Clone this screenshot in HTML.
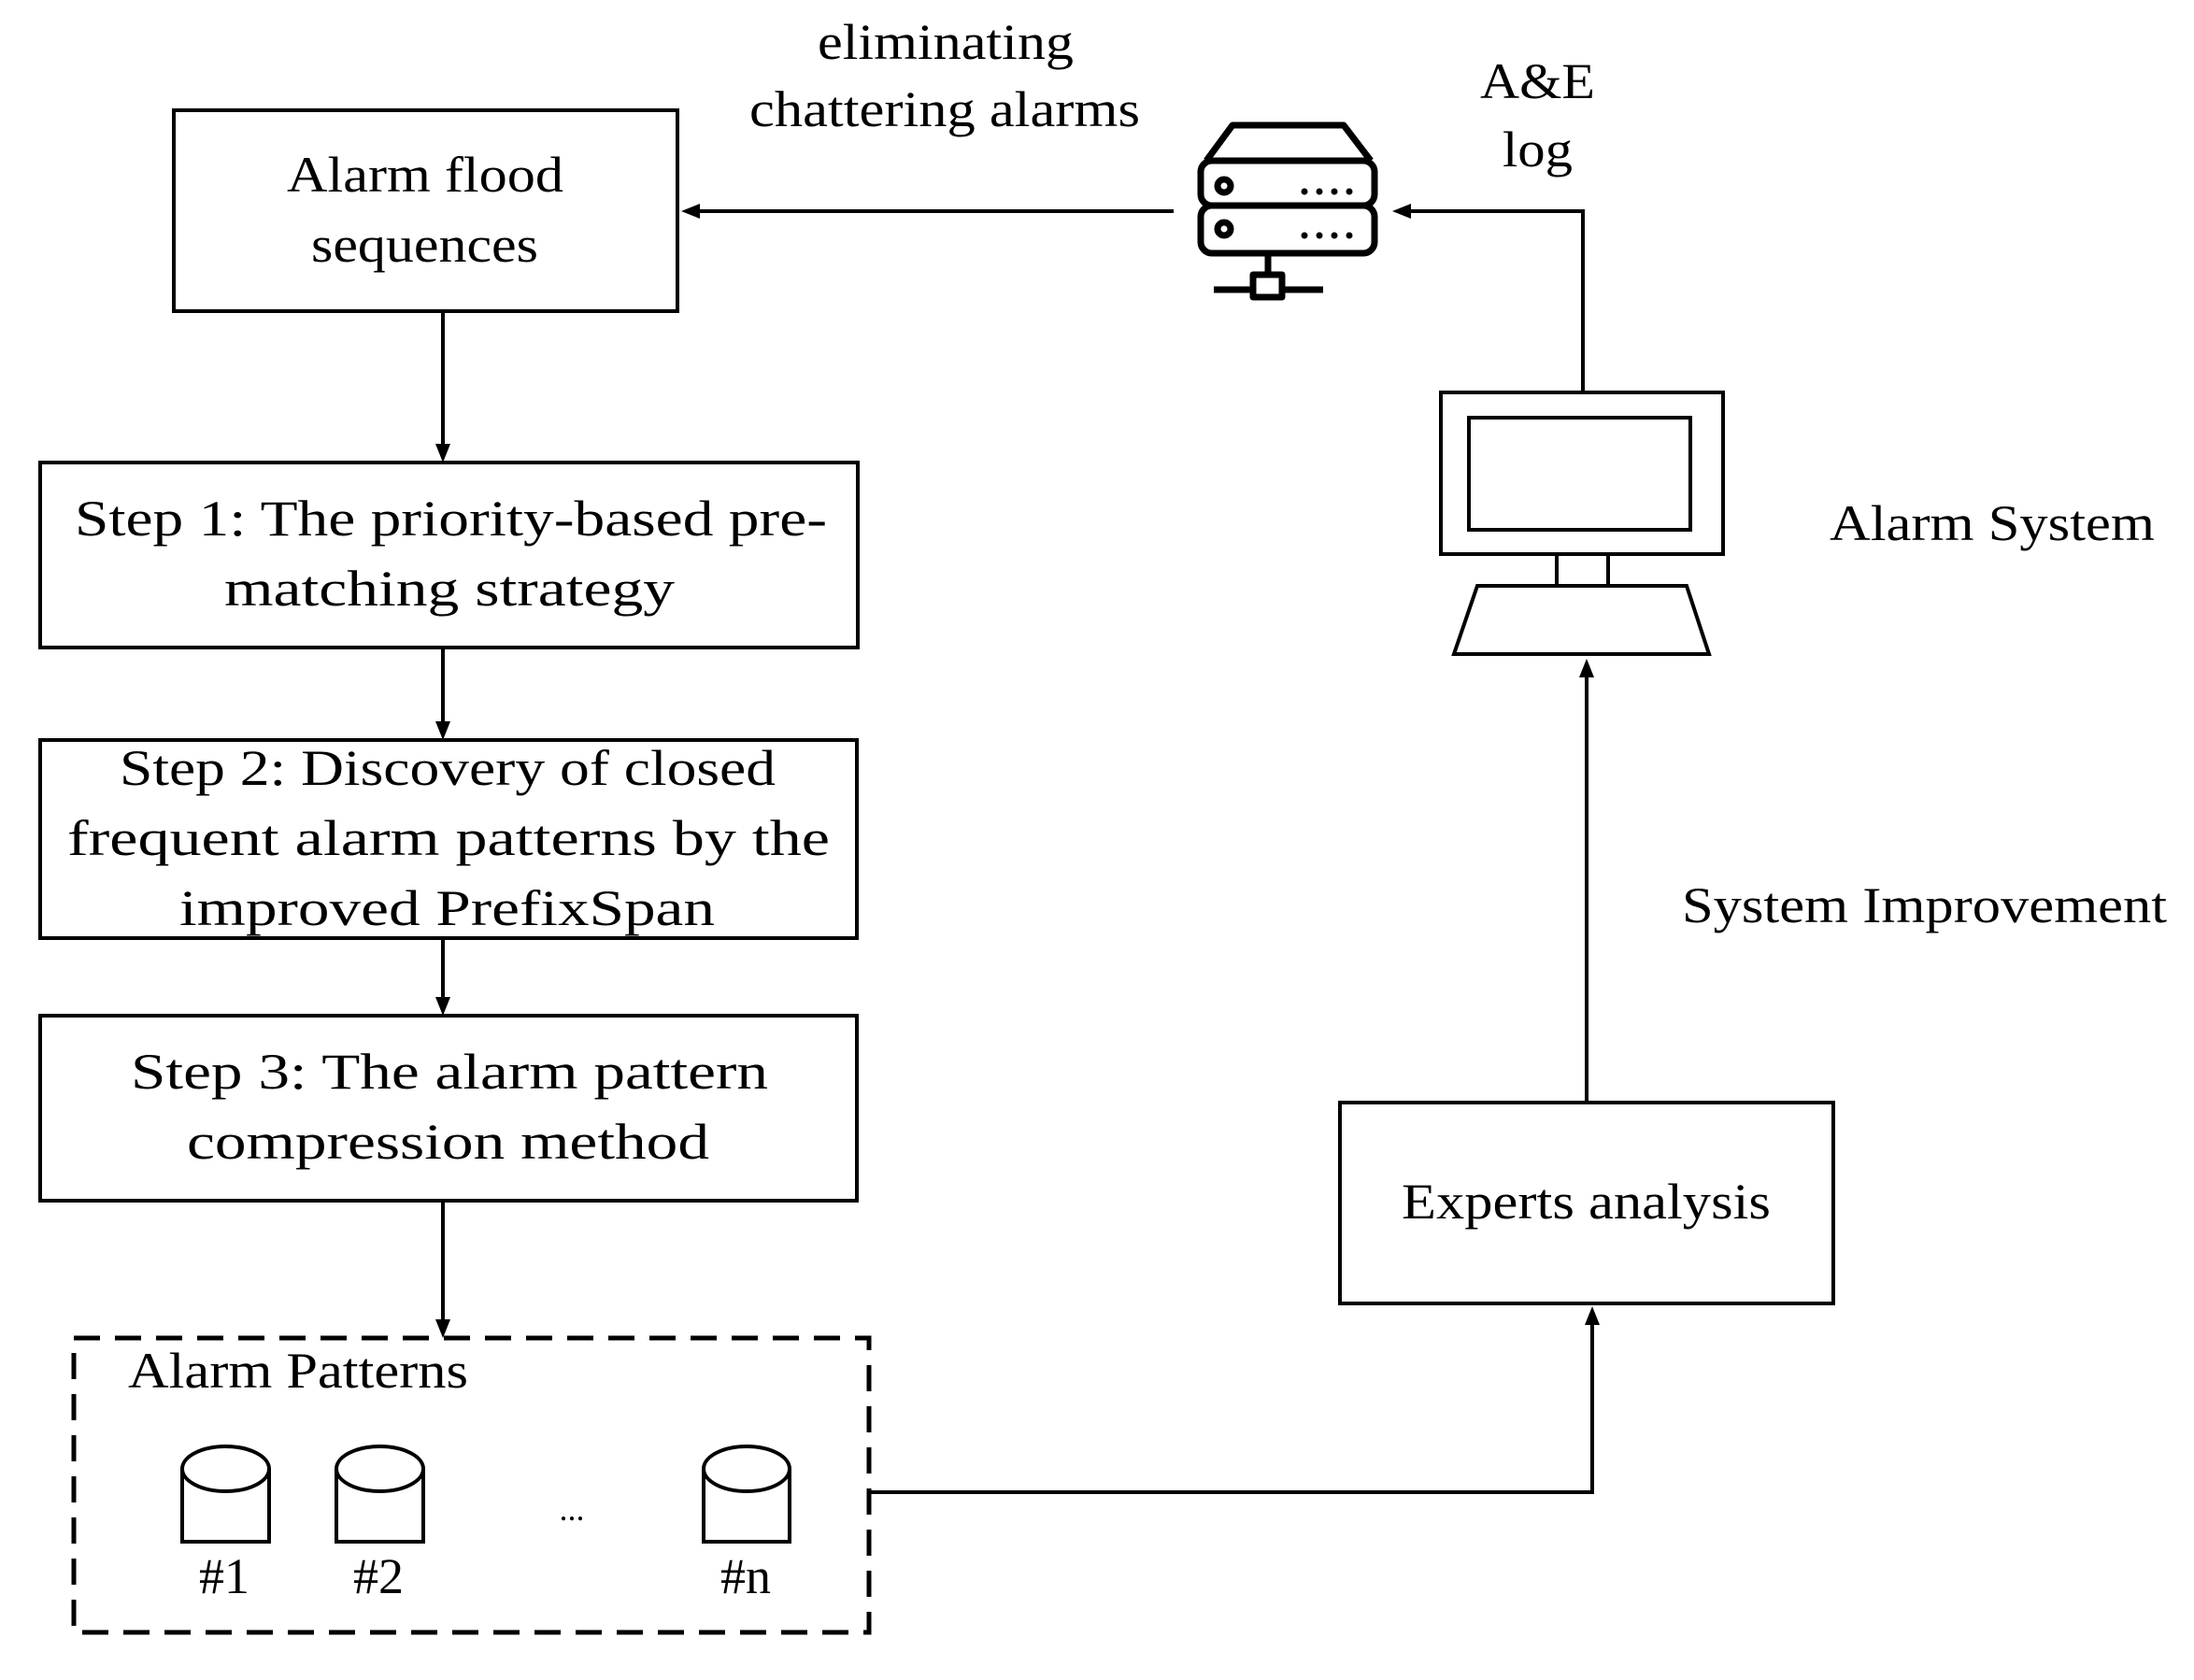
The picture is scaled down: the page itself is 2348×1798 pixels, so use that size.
<!DOCTYPE html>
<html><head><meta charset="utf-8"><style>
html,body{margin:0;padding:0;background:#fff;}
svg{display:block;}
text{font-family:"Liberation Serif",serif;font-size:54px;fill:#000;}
</style></head><body>
<svg width="2348" height="1798" viewBox="0 0 2348 1798" xmlns="http://www.w3.org/2000/svg">
<defs>
<marker id="ah" markerWidth="10" markerHeight="8" refX="9" refY="4" orient="auto" markerUnits="userSpaceOnUse" viewBox="0 0 10 8">
</marker>
</defs>
<g fill="none" stroke="#000" stroke-width="4">
<rect x="186" y="118" width="539" height="215"/>
<rect x="43" y="495" width="875" height="198"/>
<rect x="43" y="792" width="874" height="212"/>
<rect x="43" y="1087" width="874" height="198"/>
<rect x="1434" y="1180" width="528" height="215"/>
<rect x="79" y="1432" width="851" height="315" stroke-width="5" stroke-dasharray="28,16"/>
<!-- connectors -->
<line x1="474" y1="333" x2="474" y2="475"/>
<line x1="474" y1="693" x2="474" y2="772"/>
<line x1="474" y1="1004" x2="474" y2="1067"/>
<line x1="474" y1="1285" x2="474" y2="1412"/>
<polyline points="930,1597 1704,1597 1704,1418"/>
<line x1="1698" y1="1180" x2="1698" y2="725"/>
<polyline points="1694,420 1694,226 1510,226"/>
<line x1="1256" y1="226" x2="749" y2="226"/>
<!-- computer -->
<rect x="1542" y="420" width="302" height="173"/>
<rect x="1572" y="447" width="237" height="120"/>
<rect x="1666" y="593" width="55" height="34"/>
<polygon points="1581,627 1805,627 1829,700 1556,700"/>
<!-- cylinders -->
<path d="M195,1572 V1650 H288 V1572"/><ellipse cx="241.5" cy="1572" rx="46.5" ry="24"/>
<path d="M360,1572 V1650 H453 V1572"/><ellipse cx="406.5" cy="1572" rx="46.5" ry="24"/>
<path d="M753,1572 V1650 H845 V1572"/><ellipse cx="799" cy="1572" rx="46" ry="24"/>
</g>
<!-- arrowheads -->
<g fill="#000">
<polygon points="466,475 482,475 474,495"/>
<polygon points="466,772 482,772 474,792"/>
<polygon points="466,1067 482,1067 474,1087"/>
<polygon points="466,1412 482,1412 474,1432"/>
<polygon points="1696,1418 1712,1418 1704,1398"/>
<polygon points="1690,725 1706,725 1698,705"/>
<polygon points="1510,218 1510,234 1490,226"/>
<polygon points="749,218 749,234 729,226"/>
</g>
<!-- server icon -->
<g fill="none" stroke="#000" stroke-width="7" stroke-linejoin="round">
<path d="M1291,172 L1319,134 H1438 L1467,172"/>
<rect x="1285" y="172" width="186" height="48" rx="12"/>
<rect x="1285" y="220" width="186" height="51" rx="12"/>
<circle cx="1310" cy="199" r="7"/>
<circle cx="1310" cy="245" r="7"/>
<line x1="1357" y1="271" x2="1357" y2="294"/>
<rect x="1341" y="294" width="31" height="24"/>
<line x1="1299" y1="310" x2="1341" y2="310"/>
<line x1="1372" y1="310" x2="1416" y2="310"/>
</g>
<g fill="#000">
<circle cx="1396" cy="205" r="3.5"/><circle cx="1412" cy="205" r="3.5"/><circle cx="1428" cy="205" r="3.5"/><circle cx="1444" cy="205" r="3.5"/>
<circle cx="1396" cy="252" r="3.5"/><circle cx="1412" cy="252" r="3.5"/><circle cx="1428" cy="252" r="3.5"/><circle cx="1444" cy="252" r="3.5"/>
</g>
<!-- text -->
<g dominant-baseline="central">
<text x="307" y="187" textLength="296" lengthAdjust="spacingAndGlyphs">Alarm flood</text>
<text x="333" y="262" textLength="243" lengthAdjust="spacingAndGlyphs">sequences</text>
<text x="80" y="555" textLength="805" lengthAdjust="spacingAndGlyphs">Step 1: The priority-based pre-</text>
<text x="240" y="630" textLength="482" lengthAdjust="spacingAndGlyphs">matching strategy</text>
<text x="128" y="822" textLength="702" lengthAdjust="spacingAndGlyphs">Step 2: Discovery of closed</text>
<text x="72" y="897" textLength="816" lengthAdjust="spacingAndGlyphs">frequent alarm patterns by the</text>
<text x="192" y="972" textLength="573" lengthAdjust="spacingAndGlyphs">improved PrefixSpan</text>
<text x="140" y="1147" textLength="682" lengthAdjust="spacingAndGlyphs">Step 3:  The alarm pattern</text>
<text x="200" y="1222" textLength="559" lengthAdjust="spacingAndGlyphs">compression method</text>
<text x="137" y="1467" textLength="364" lengthAdjust="spacingAndGlyphs">Alarm Patterns</text>
<text x="1500" y="1286" textLength="395" lengthAdjust="spacingAndGlyphs">Experts analysis</text>
<text x="1800" y="969" textLength="519" lengthAdjust="spacingAndGlyphs">System Improvement</text>
<text x="1958" y="560" textLength="348" lengthAdjust="spacingAndGlyphs">Alarm System</text>
<text x="875" y="45" textLength="274" lengthAdjust="spacingAndGlyphs">eliminating</text>
<text x="802" y="117" textLength="418" lengthAdjust="spacingAndGlyphs">chattering alarms</text>
<text x="1584" y="87" textLength="123" lengthAdjust="spacingAndGlyphs">A&amp;E</text>
<text x="1608" y="160" textLength="75" lengthAdjust="spacingAndGlyphs">log</text>
<text x="240" y="1687" text-anchor="middle">#1</text>
<text x="405" y="1687" text-anchor="middle">#2</text>
<text x="798" y="1687" text-anchor="middle">#n</text>
<text x="612" y="1615" text-anchor="middle" style="font-size:36px">...</text>
</g>
</svg>
</body></html>
